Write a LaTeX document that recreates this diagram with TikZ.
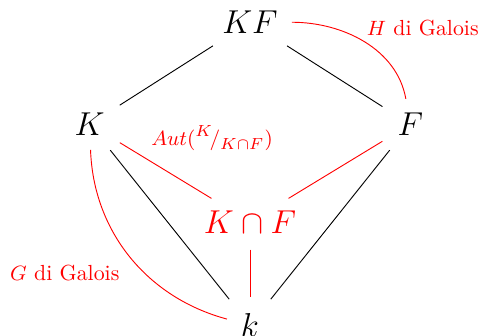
\documentclass[tikz,border=0pt]{standalone}
\usepackage{amsmath}
\usepackage{amssymb}
\usepackage{tikz}
\usepackage{xcolor}
\usetikzlibrary{arrows.meta, positioning, calc}
\definecolor{cRed}{RGB}{255,0,0}
\tikzset{
	field/.style    ={font=\Large, inner sep=3pt},
	link/.style     ={thin, draw=black, shorten <=4pt, shorten >=4pt},
	redlink/.style  ={thin, draw=cRed, shorten <=4pt, shorten >=4pt},
	galois/.style   ={thin, draw=cRed, shorten <=3pt, shorten >=3pt},
	lbl/.style      ={font=\fontsize{9.5pt}{11pt}\selectfont, text=cRed},
}
\begin{document}
\begin{tikzpicture}
			\useasboundingbox (0,0) rectangle (7.35,-5.12);
			\node[field] (KF) at (3.82,-0.34) {$KF$};
			\node[field] (K)  at (1.37,-1.90) {$K$};
			\node[field] (F)  at (6.27,-1.90) {$F$};
			\node[field, text=cRed] (KnF) at (3.82,-3.39) {$K\cap F$};
			\node[field] (k)  at (3.82,-4.97) {$k$};
			% black lattice
			\draw[link](KF)--(K); \draw[link](KF)--(F);
			\draw[link](K)--(k); \draw[link](F)--(k);
			% red part
			\draw[redlink](K)--(KnF); \draw[redlink](F)--(KnF); \draw[redlink](KnF)--(k);
			\draw[galois](KF) to[out=0, in=100] (F);
			\draw[galois](K) to[out=-88, in=165] (k);
			\node[lbl] (aut) at (3.24,-2.11) {$Aut({}^{K}\!/_{K\cap F})$};
			\node[lbl] (hgal) at (6.46,-0.43) {$H$ di Galois};
			\node[lbl] (ggal) at (0.99,-4.17) {$G$ di Galois};
		\end{tikzpicture}
\end{document}
